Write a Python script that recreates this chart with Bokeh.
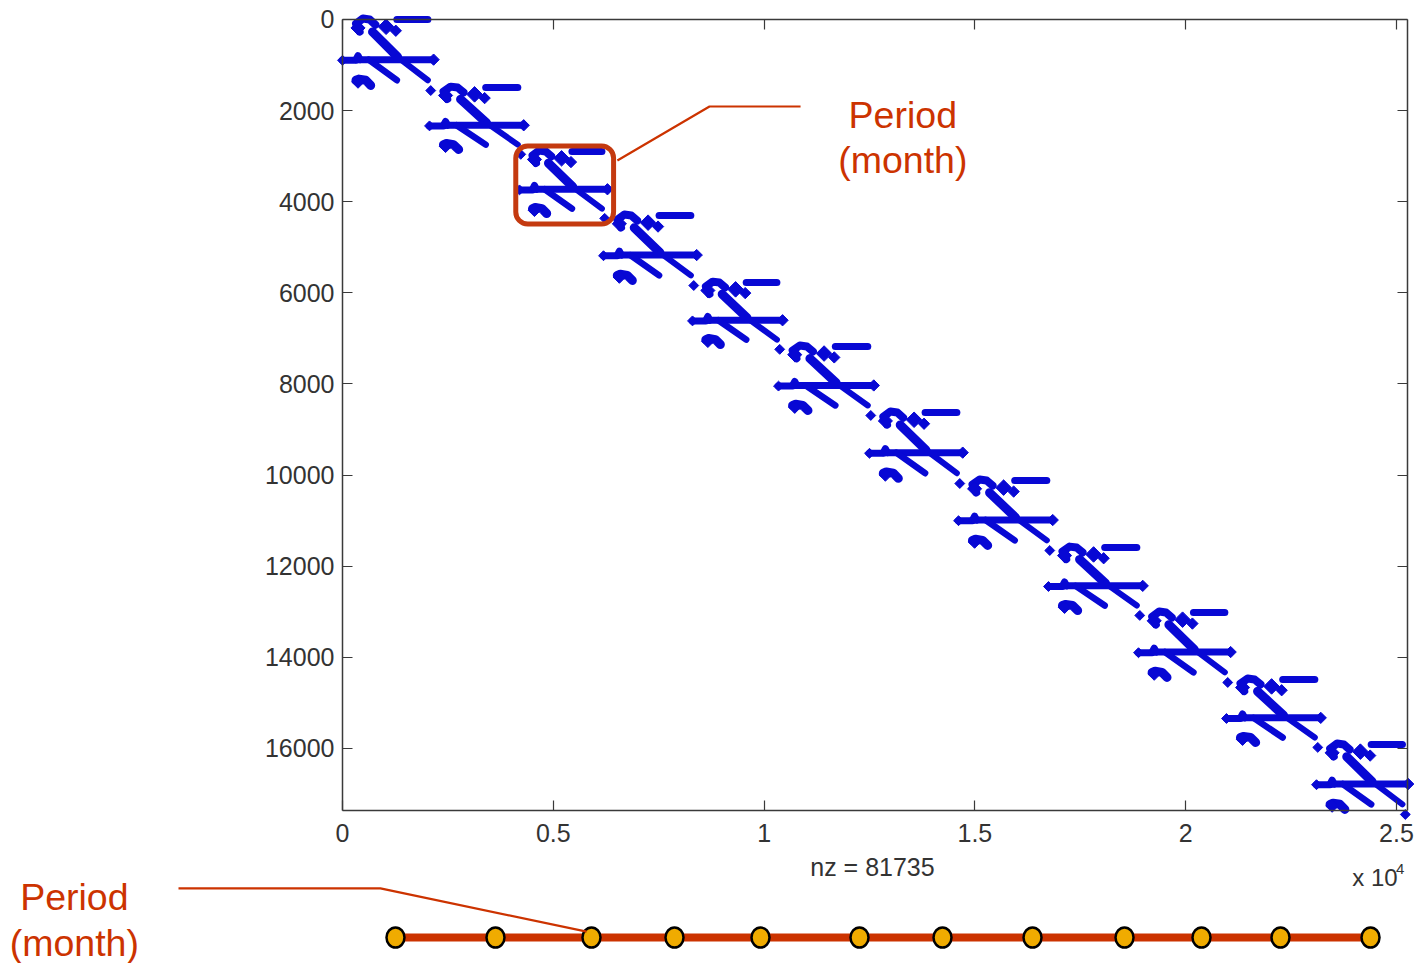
from math import pi
from bokeh.embed import file_html
from bokeh.resources import INLINE
from bokeh.plotting import figure
from bokeh.models import LinearAxis, FixedTicker, Range1d, ColumnDataSource
from bokeh.core.properties import value

# First row / column of each monthly block of the sparse matrix (last entry closes the final block)
block_cols = [0, 2064, 4198, 6191, 8302, 10342, 12500, 14612, 16746, 18881, 20968, 23103, 25180]
block_rows = [0, 1493, 2897, 4302, 5773, 7177, 8626, 10118, 11589, 13016, 14486, 15913, 17383]

# Nonzero pattern inside one block: column offsets, row offsets, stroke width
pattern_lines = [
    ([1330, 2090], [0, 0], 7),
    ([420, 330, 500, 665, 805], [260, 90, -20, 0, 110], 8),
    ([735, 1350], [265, 800], 9),
    ([1350, 2090], [800, 1295], 6),
    ([0, 330], [870, 870], 7),
    ([330, 380, 430], [856, 770, 856], 7),
    ([380, 2230], [856, 856], 7),
    ([640, 1330], [856, 1295], 6.5),
    ([330, 400, 570, 690], [1295, 1270, 1295, 1405], 9),
]
pattern_dots_col = [1067, 1305, 2160, 2230, 0, 380, 380]
pattern_dots_row = [155, 240, 1515, 856, 870, 180, 1330]
pattern_dots_size = [11, 8, 7, 8, 7, 10, 9]

x_ticks = [0, 5000, 10000, 15000, 20000, 25000]
x_tick_labels = ["0", "0.5", "1", "1.5", "2", "2.5"]
y_ticks = [0, 2000, 4000, 6000, 8000, 10000, 12000, 14000, 16000]
y_tick_labels = ["0", "2000", "4000", "6000", "8000", "10000", "12000", "14000", "16000"]
x_limit = 25261
y_limit = 17365

# Timeline of period boundaries, on the same column scale
timeline_x = [1257, 3629, 5906, 7875, 9915, 12263, 14232, 16367, 18549, 20375, 22249, 24384]
timeline_level = 20150

BLUE = "#0808D4"
RED = "#CC3300"
FONT = value("Liberation Sans")

xs, ys, ws, dx, dy, ds = [], [], [], [], [], []
for i in range(12):
    sx = (block_cols[i + 1] - block_cols[i]) / 2130
    sy = (block_rows[i + 1] - block_rows[i]) / 1450
    for lx, ly, w in pattern_lines:
        xs.append([block_cols[i] + a * sx for a in lx])
        ys.append([block_rows[i] + b * sy for b in ly])
        ws.append(w)
    for a, b, s in zip(pattern_dots_col, pattern_dots_row, pattern_dots_size):
        dx.append(block_cols[i] + a * sx)
        dy.append(block_rows[i] + b * sy)
        ds.append(s)

p = figure(width=1415, height=963, output_backend="svg", toolbar_location=None,
           x_axis_location=None, y_axis_location=None,
           x_range=Range1d(-8112, 25451), y_range=Range1d(20720, -417),
           min_border=0, outline_line_color=None, background_fill_color="white")
p.grid.visible = False

def make_axis(ticks, labels, at, limit, standoff):
    ax = LinearAxis(fixed_location=at, bounds=(0, limit), ticker=FixedTicker(ticks=ticks),
                    major_label_overrides=dict(zip(ticks, labels)),
                    major_tick_in=10, major_tick_out=0, minor_tick_line_color=None,
                    axis_line_color="#3a3a3a", major_tick_line_color="#3a3a3a",
                    axis_line_width=1.5, major_tick_line_width=1.2,
                    major_label_text_font="Liberation Sans", major_label_text_font_size="25px",
                    major_label_text_color="#333333", major_label_standoff=standoff)
    return ax

p.add_layout(make_axis(x_ticks, x_tick_labels, y_limit, x_limit, 13), "below")
p.add_layout(make_axis(x_ticks, [""] * 6, 0, x_limit, 0), "above")
p.add_layout(make_axis(y_ticks, y_tick_labels, 0, y_limit, 8), "left")
p.add_layout(make_axis(y_ticks, [""] * 9, x_limit, y_limit, 0), "right")

p.multi_line(xs="xs", ys="ys", line_width="w", line_color=BLUE, line_cap="round", line_join="round",
             source=ColumnDataSource(dict(xs=xs, ys=ys, w=ws)))
p.scatter(x="x", y="y", size="s", marker="square", angle=pi / 4, color=BLUE,
          source=ColumnDataSource(dict(x=dx, y=dy, s=ds)))

# Callout round the third block
p.quad(left=[4110], right=[6430], top=[2775], bottom=[4490], fill_alpha=0,
       line_color="#C43A10", line_width=5, border_radius=12)
p.line([10865, 8705, 6520], [1910, 1910, 3095], line_color=RED, line_width=2.2)
p.text([13290], [2100], text=["Period"], text_font=FONT, text_font_size="37.5px", text_color=RED,
       text_align="center", text_baseline="middle")
p.text([13290], [3090], text=["(month)"], text_font=FONT, text_font_size="37.5px", text_color=RED,
       text_align="center", text_baseline="middle")

# Axis notes
p.text([12570], [18600], text=["nz = 81735"], text_font=FONT, text_font_size="25px", text_color="#333333",
       text_align="center", text_baseline="middle")
p.text([23950], [18840], text=["x 10"], text_font=FONT, text_font_size="24px", text_color="#333333",
       text_align="left", text_baseline="middle")
p.text([24990], [18640], text=["4"], text_font=FONT, text_font_size="15px", text_color="#333333",
       text_align="left", text_baseline="middle")

# Timeline
p.line(timeline_x, [timeline_level] * 12, line_color=RED, line_width=8)
p.ellipse(timeline_x, [timeline_level] * 12, width=18, height=20, width_units="screen", height_units="screen",
          fill_color="#F0AB00", line_color="black", line_width=2.5)
p.line([-3890, 900, 5790], [19070, 19070, 20020], line_color=RED, line_width=2.2)
p.text([-6360], [19270], text=["Period"], text_font=FONT, text_font_size="37.5px", text_color=RED,
       text_align="center", text_baseline="middle")
p.text([-6360], [20260], text=["(month)"], text_font=FONT, text_font_size="37.5px", text_color=RED,
       text_align="center", text_baseline="middle")

open("out.html", "w").write(file_html(p, INLINE))
